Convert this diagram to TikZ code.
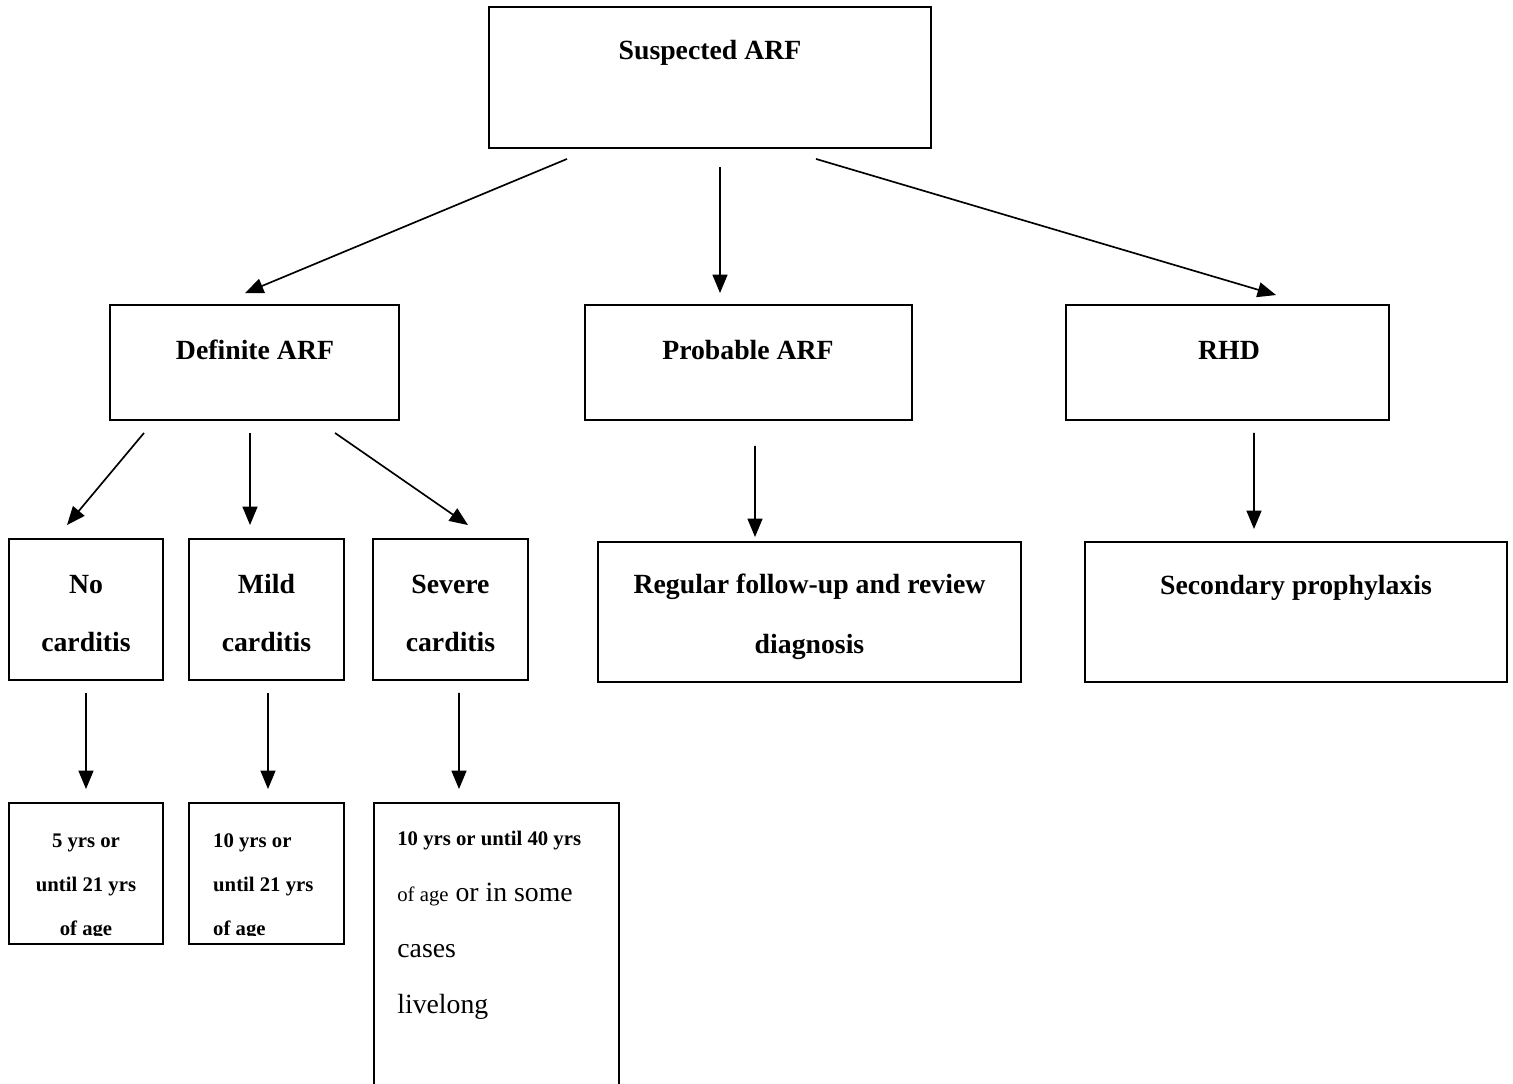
\documentclass[tikz,border=0pt]{standalone}
\usepackage{fontspec}
\setmainfont{Liberation Serif}
\usetikzlibrary{arrows.meta,calc}

\begin{document}
\begin{tikzpicture}[x=0.02cm, y=-0.02cm,
		box/.style={draw, line width=1.1pt, rectangle, inner sep=0pt},
		arr/.style={-{Triangle[length=10.5pt, width=8.5pt]}, line width=0.95pt},
		big/.style={font=\fontsize{15.8}{33}\selectfont\bfseries, align=center},
		small/.style={font=\fontsize{11.8}{25}\selectfont\bfseries}]
		\clip (0,0) rectangle (1513,1084);
		% boxes
		\node[box, minimum width=8.84cm, minimum height=2.82cm] (sus) at (710,77.5) {};
		\node[box, minimum width=5.78cm, minimum height=2.3cm] (def) at (254.5,362.5) {};
		\node[box, minimum width=6.54cm, minimum height=2.3cm] (prob) at (748.5,362.5) {};
		\node[box, minimum width=6.46cm, minimum height=2.3cm] (rhd) at (1227.5,362.5) {};
		\node[box, minimum width=3.08cm, minimum height=2.82cm] (no) at (86,609.5) {};
		\node[box, minimum width=3.1cm, minimum height=2.82cm] (mild) at (266.5,609.5) {};
		\node[box, minimum width=3.1cm, minimum height=2.82cm] (sev) at (450.5,609.5) {};
		\node[box, minimum width=8.46cm, minimum height=2.8cm] (reg) at (809.5,612) {};
		\node[box, minimum width=8.44cm, minimum height=2.8cm] (sec) at (1296,612) {};
		\node[box, minimum width=3.08cm, minimum height=2.82cm] (five) at (86,873.5) {};
		\node[box, minimum width=3.1cm, minimum height=2.82cm] (ten) at (266.5,873.5) {};
		\node[box, minimum width=4.9cm, minimum height=6.14cm] (forty) at (496.5,956.5) {};
		% texts (base = last line)
		\node[big, anchor=base] (tsus) at (710,60) {Suspected ARF};
		\node[big, anchor=base] (tdef) at (255,359) {Definite ARF};
		\node[big, anchor=base] (tprob) at (748,359) {Probable ARF};
		\node[big, anchor=base] (trhd) at (1229,359) {RHD};
		\node[big, anchor=base] (tno) at (86,651) {No\\carditis};
		\node[big, anchor=base] (tmild) at (266.5,651) {Mild\\carditis};
		\node[big, anchor=base] (tsev) at (450.5,651) {Severe\\carditis};
		\node[big, anchor=base, font=\fontsize{15.8}{34}\selectfont\bfseries] (treg) at (809.5,653) {Regular follow-up and review\\diagnosis};
		\node[big, anchor=base] (tsec) at (1296,594) {Secondary prophylaxis};
		\begin{scope}
			\clip (9,803) rectangle (163,935);
			\node[small, anchor=base, align=center] (tfive) at (86,935) {5 yrs or\\until 21 yrs\\of age};
		\end{scope}
		\begin{scope}
			\clip (189,803) rectangle (344,935);
			\node[small, anchor=base west, align=left] (tten) at (207,935) {10 yrs or\\until 21 yrs\\of age};
		\end{scope}
		\node[anchor=base west, align=left, inner xsep=0pt, font=\fontsize{15.8}{31.7}\selectfont] (tforty) at (397,1013)
		{{\fontsize{11.8}{31.7}\selectfont\bfseries 10 yrs or until 40 yrs}\\
		{\fontsize{11.8}{31.7}\selectfont of age} or in some\\
		cases\\
		livelong};
		% arrows
		\draw[arr] ($(sus.south)+(-143,10)$) -- ($(def.north)+(-9.5,-11)$);
		\draw[arr] ($(sus.south)+(10,18)$) -- ($(prob.north)+(-28.5,-11)$);
		\draw[arr] ($(sus.south)+(106,10)$) -- ($(rhd.north)+(48.5,-9)$);
		\draw[arr] ($(def.south)+(-110.5,12)$) -- ($(no.north)+(-19,-13)$);
		\draw[arr] ($(def.south)+(-4.5,12)$) -- ($(mild.north)+(-16.5,-13)$);
		\draw[arr] ($(def.south)+(80.5,12)$) -- ($(sev.north)+(17.5,-13)$);
		\draw[arr] ($(prob.south)+(6.5,25)$) -- ($(reg.north)+(-54.5,-4)$);
		\draw[arr] ($(rhd.south)+(26.5,12)$) -- ($(sec.north)+(-42,-12)$);
		\draw[arr] ($(no.south)+(0,12)$) -- ($(five.north)+(0,-13)$);
		\draw[arr] ($(mild.south)+(1.5,12)$) -- ($(ten.north)+(1.5,-13)$);
		\draw[arr] ($(sev.south)+(8.5,12)$) -- ($(forty.north)+(-37.5,-13)$);
	\end{tikzpicture}
\end{document}
